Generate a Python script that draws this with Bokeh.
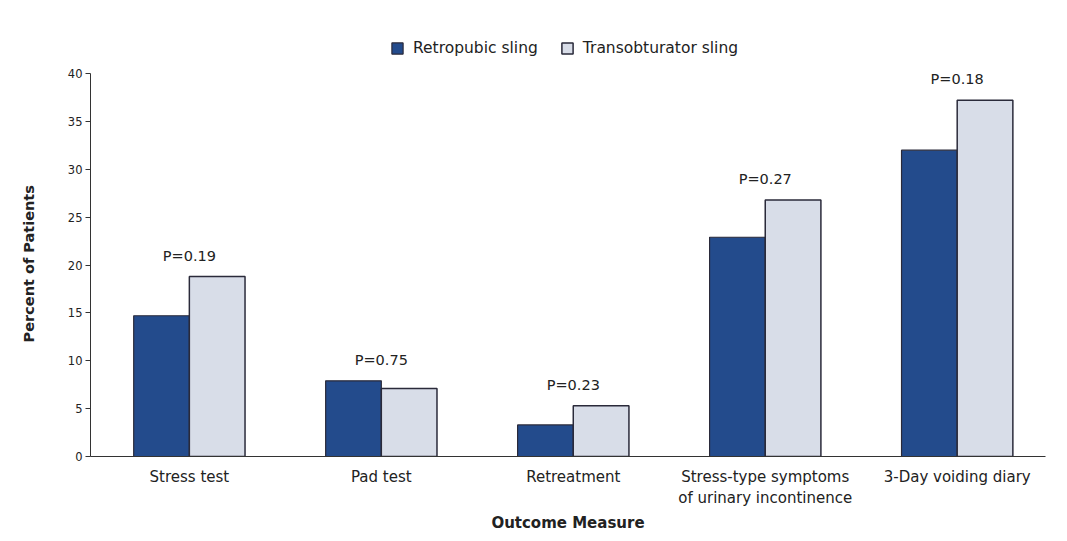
from bokeh.plotting import figure
from bokeh.models import Range1d, FixedTicker, ColumnDataSource, Legend, LegendItem
from bokeh.core.properties import value
from bokeh.embed import file_html
from bokeh.resources import INLINE

categories = ["Stress test", "Pad test", "Retreatment",
              "Stress-type symptoms\nof urinary incontinence", "3-Day voiding diary"]
retropubic = [14.7, 7.9, 3.3, 22.9, 32.0]
transobturator = [18.8, 7.1, 5.3, 26.8, 37.2]
p_values = ["P=0.19", "P=0.75", "P=0.23", "P=0.27", "P=0.18"]
y_ticks = [0, 5, 10, 15, 20, 25, 30, 35, 40]
y_title = "Percent of Patients"
x_title = "Outcome Measure"

FONT = "DejaVu Sans"
W, H = 1051, 535

x = list(range(len(categories)))
bw = 0.29
src = ColumnDataSource(dict(
    x=x,
    xr=[v - bw / 2 for v in x],
    xt=[v + bw / 2 for v in x],
    ret=retropubic,
    tro=transobturator,
    top=[max(a, b) for a, b in zip(retropubic, transobturator)],
    p=p_values,
))

p = figure(width=W, height=H, output_backend="svg", toolbar_location=None,
           x_range=Range1d(-0.515, 4.46), y_range=Range1d(0, 45.54),
           min_border_left=90, min_border_right=6, min_border_top=20, min_border_bottom=79)
p.background_fill_color = "white"
p.border_fill_color = "white"
p.outline_line_color = None
p.grid.grid_line_color = None

r1 = p.vbar(x="xr", top="ret", width=bw, source=src, fill_color="#234b8c",
            line_color="#2a2a3a", line_width=1.2)
r2 = p.vbar(x="xt", top="tro", width=bw, source=src, fill_color="#d8dde8",
            line_color="#2a2a3a", line_width=1.5)

p.text(x="x", y="top", text="p", source=src, text_align="center", text_baseline="bottom",
       y_offset=-13, text_font=value(FONT), text_font_size="14.5px", text_color="#222222")

# axes
p.yaxis.ticker = FixedTicker(ticks=y_ticks)
p.yaxis.bounds = (0, 40)
# trailing no-break spaces keep the title centred on the 0-40 span of the axis
p.yaxis.axis_label = y_title + "\u00a0" * 10
p.yaxis.axis_label_text_font = FONT
p.yaxis.axis_label_text_font_style = "bold"
p.yaxis.axis_label_text_font_size = "14.5px"
p.yaxis.axis_label_text_color = "#222222"
p.yaxis.axis_label_standoff = 28
p.yaxis.major_label_text_font = FONT
p.yaxis.major_label_text_font_size = "11.5px"
p.yaxis.major_label_standoff = 3
p.yaxis.minor_tick_line_color = None
p.yaxis.major_tick_in = 0
p.yaxis.major_tick_out = 5
p.yaxis.axis_line_color = "#333333"
p.yaxis.major_tick_line_color = "#333333"
p.yaxis.major_label_text_color = "#222222"

p.xaxis.ticker = FixedTicker(ticks=x)
p.xaxis.major_label_overrides = {i: c for i, c in zip(x, categories)}
p.xaxis.major_tick_line_color = None
p.xaxis.minor_tick_line_color = None
p.xaxis.axis_label = x_title
p.xaxis.axis_label_text_font = FONT
p.xaxis.axis_label_text_font_style = "bold"
p.xaxis.axis_label_text_font_size = "15px"
p.xaxis.axis_label_text_color = "#222222"
p.xaxis.axis_label_standoff = 4
p.xaxis.major_label_text_font = FONT
p.xaxis.major_label_text_font_size = "15px"
p.xaxis.major_label_text_color = "#222222"
p.xaxis.major_label_standoff = 5
p.xaxis.axis_line_color = "#333333"
p.xaxis.axis_line_width = 1.2

legend = Legend(items=[LegendItem(label="Retropubic sling", renderers=[r1]),
                       LegendItem(label="Transobturator sling", renderers=[r2])],
                orientation="horizontal", location=(300, 399),
                label_text_font=FONT, label_text_font_size="15.5px",
                label_text_color="#222222",
                label_height=14,
                glyph_width=14, glyph_height=14, spacing=22, padding=0, margin=0,
                label_standoff=9, border_line_color=None, background_fill_alpha=0)
p.add_layout(legend, "center")

open("out.html", "w").write(file_html(p, INLINE))
